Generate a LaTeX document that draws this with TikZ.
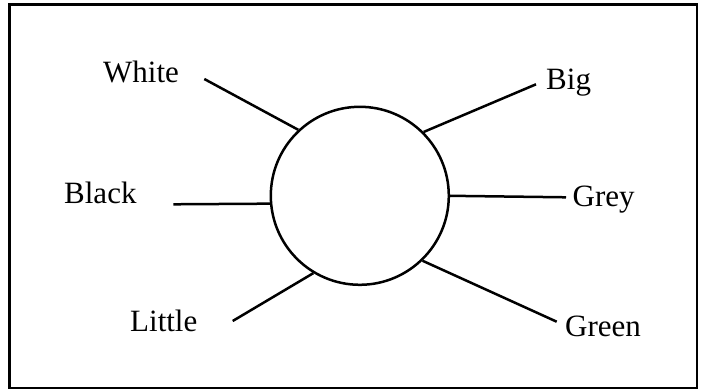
\documentclass[tikz,border=0pt]{standalone}
\usepackage{fontspec}
\setmainfont{Liberation Serif}
\usetikzlibrary{positioning}

\begin{document}
\begin{tikzpicture}[
    x=1pt, y=-1pt,
    hub/.style={circle, draw, line width=2.5pt, minimum size=178pt, inner sep=0pt},
    word/.style={anchor=base west, inner sep=0pt, font=\fontsize{31}{36}\selectfont},
    spoke/.style={line width=2.5pt}
]
\useasboundingbox (0,0) rectangle (701,390);
\draw[line width=2.9pt] (9.7,4.5) rectangle (697,388);

\node[hub] (hub) at (359.8,195.8) {};

\node[word] (white) at (103,83) {White};
\node[word] (black) at (64,204) {Black};
\node[word] (little) at (130,331.5) {Little};
\node[word] (big) at (546,90) {Big};
\node[word] (grey) at (572.5,206.5) {Grey};
\node[word] (green) at (565,336.5) {Green};

\coordinate (wend) at (204.3,79);
\coordinate (bkend) at (173.4,204.3);
\coordinate (lend) at (232.7,321);
\coordinate (bend) at (536,84.3);
\coordinate (gyend) at (566,197.3);
\coordinate (gnend) at (556.7,321.7);

\draw[spoke] (hub.133) -- (wend);
\draw[spoke] (hub.185) -- (bkend);
\draw[spoke] (hub.239) -- (lend);
\draw[spoke] (hub.45) -- (bend);
\draw[spoke] (hub.0) -- (gyend);
\draw[spoke] (hub.-46) -- (gnend);

\end{tikzpicture}
\end{document}
